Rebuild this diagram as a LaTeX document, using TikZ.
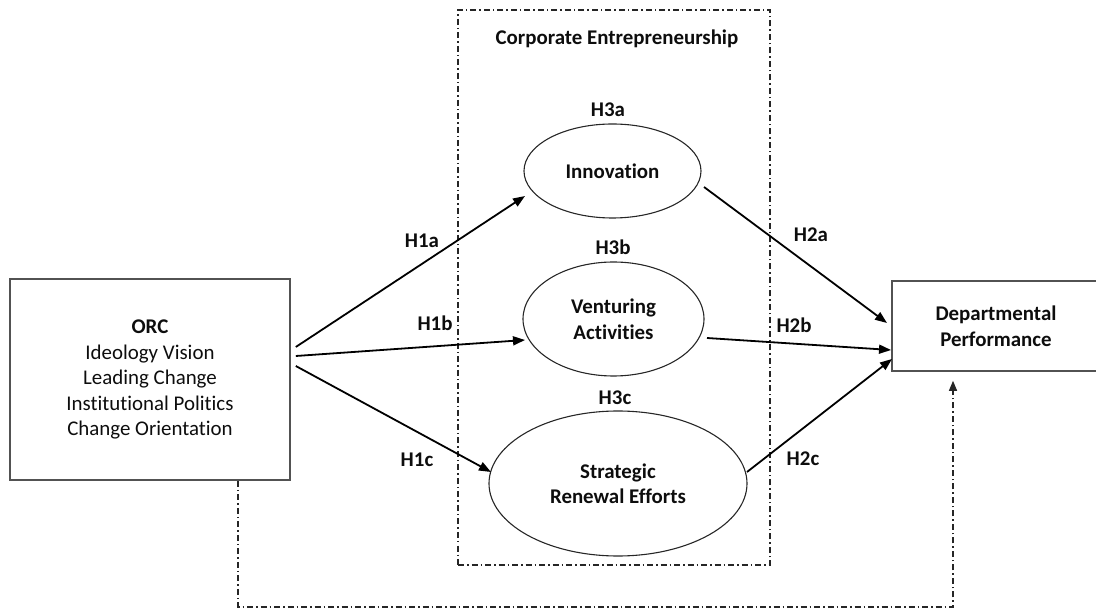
\documentclass[tikz,border=0pt]{standalone}
\usepackage{fontspec}
\setmainfont{Carlito}[Ligatures=NoCommon]
\usetikzlibrary{arrows.meta,shapes.geometric}
\begin{document}
\begin{tikzpicture}[x=1pt,y=-1pt,
  every node/.style={font=\fontsize{20.9}{25.5}\selectfont, text=black!95},
  boxnode/.style={draw=black!68, line width=1.6pt, rectangle, align=center, inner sep=0pt},
  ellnode/.style={draw=black!85, line width=1.1pt, ellipse, align=center, inner sep=0pt, font=\fontsize{20.9}{25.5}\selectfont\bfseries},
  lbl/.style={anchor=base, font=\fontsize{20.9}{25.5}\selectfont\bfseries},
  arr/.style={line width=1.8pt, -{Triangle[length=12pt,width=9pt]}},
  dashdot/.style={line width=1.4pt, dash pattern=on 6pt off 3pt on 1.5pt off 3pt},
]
\useasboundingbox (0,0) rectangle (1096,609);

% main boxes
\node[boxnode, minimum width=280pt, minimum height=201pt] (orc) at (150,379.5)
  {\textbf{ORC}\\Ideology Vision\\Leading Change\\Institutional Politics\\Change Orientation};
\node[boxnode, minimum width=208pt, minimum height=90pt, font=\fontsize{20.9}{25.5}\selectfont\bfseries] (dept) at (996,326)
  {Departmental\\Performance};

% corporate entrepreneurship frame
\node[draw=black!85, dashdot, minimum width=312pt, minimum height=555pt, inner sep=0pt] (ce) at (614,287.5) {};
\node[lbl] (cet) at (617,44.7) {Corporate Entrepreneurship};

% ellipses
\node[ellnode, minimum width=177pt, minimum height=94pt] (inn) at (612.5,171) {Innovation};
\node[ellnode, minimum width=181pt, minimum height=114pt] (ven) at (613.5,319) {Venturing\\Activities};
\node[ellnode, minimum width=258pt, minimum height=145pt] (str) at (618,483.5) {Strategic\\Renewal Efforts};

% labels
\node[lbl] (h3a) at (608,116.7) {H3a};
\node[lbl] (h3b) at (613,254.7) {H3b};
\node[lbl] (h3c) at (615,404.7) {H3c};
\node[lbl] (h1a) at (422,247.7) {H1a};
\node[lbl] (h1b) at (435,330.7) {H1b};
\node[lbl] (h1c) at (417,466.7) {H1c};
\node[lbl] (h2a) at (811,241.7) {H2a};
\node[lbl] (h2b) at (794,332.7) {H2b};
\node[lbl] (h2c) at (803,465.7) {H2c};

% arrows
\draw[arr] ([xshift=5pt,yshift=32.5pt]orc.east) -- ([xshift=-87.5pt,yshift=-25pt]inn.center);
\draw[arr] ([xshift=5pt,yshift=23.5pt]orc.east) -- ([xshift=-88.5pt,yshift=-21pt]ven.center);
\draw[arr] ([xshift=5pt,yshift=13.5pt]orc.east) -- ([xshift=-127pt,yshift=11.5pt]str.center);
\draw[arr] ([xshift=91.5pt,yshift=-16pt]inn.center) -- ([xshift=-109pt,yshift=3pt]dept.center);
\draw[arr] ([xshift=93.5pt,yshift=-19pt]ven.center) -- ([xshift=-105pt,yshift=-24pt]dept.center);
\draw[arr] ([xshift=129pt,yshift=11.5pt]str.center) -- ([xshift=-104pt,yshift=-33pt]dept.center);

% feedback dashed path
\draw[dashdot, draw=black!85, -{Triangle[length=10pt,width=8pt]}]
  ([xshift=88pt]orc.south) -- ++(0,126) -| ([xshift=-43pt,yshift=-9pt]dept.south);
\end{tikzpicture}
\end{document}
